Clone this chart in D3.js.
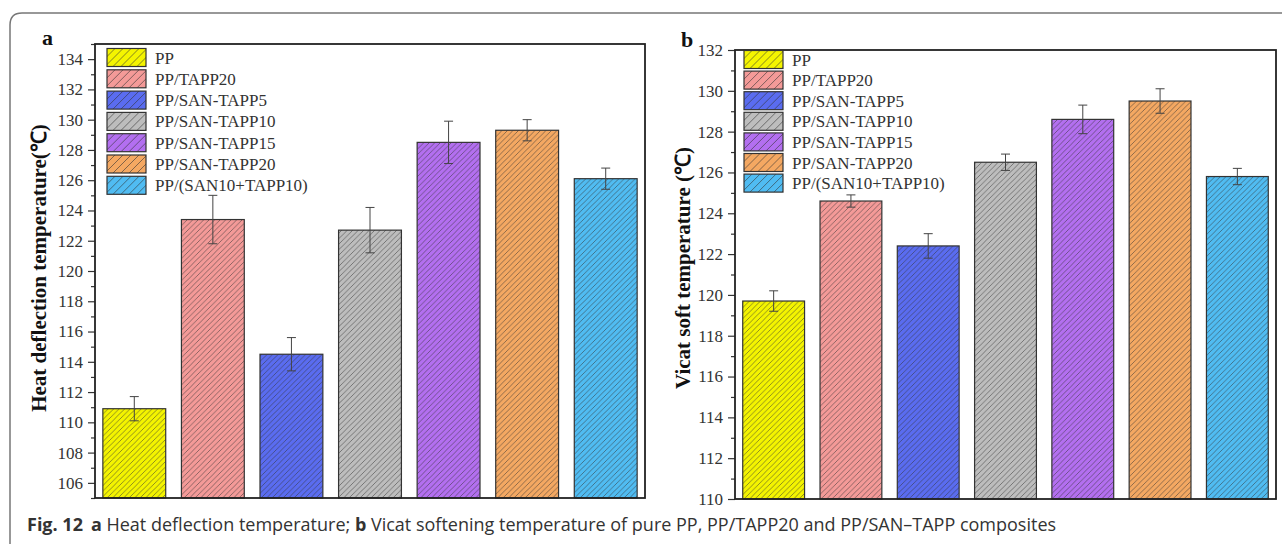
<!DOCTYPE html>
<html>
<head>
<meta charset="utf-8">
<script src="https://cdn.jsdelivr.net/npm/d3@7"></script>
<style>
  body { margin: 0; background: #fff; }
  svg { display: block; }
</style>
</head>
<body>
<div id="vis-container"></div>
<script>
let width = 1282;
let height = 544;

// categories shared by both panels
let samples = ["PP", "PP/TAPP20", "PP/SAN-TAPP5", "PP/SAN-TAPP10", "PP/SAN-TAPP15", "PP/SAN-TAPP20", "PP/(SAN10+TAPP10)"];
let bar_colors = ["#f4f400", "#f49a98", "#5a6cf0", "#bdbdbd", "#b36ff0", "#f4a862", "#50bcf2"];

// panel a: heat deflection temperature
let hdt_values = [110.9, 123.4, 114.5, 122.7, 128.5, 129.3, 126.1];
let hdt_errors = [0.8, 1.6, 1.1, 1.5, 1.4, 0.7, 0.7];
let hdt_ticks = [106, 108, 110, 112, 114, 116, 118, 120, 122, 124, 126, 128, 130, 132, 134];

// panel b: vicat softening temperature
let vst_values = [119.7, 124.6, 122.4, 126.5, 128.6, 129.5, 125.8];
let vst_errors = [0.5, 0.3, 0.6, 0.4, 0.7, 0.6, 0.4];
let vst_ticks = [110, 112, 114, 116, 118, 120, 122, 124, 126, 128, 130, 132];

let svg = d3.select("#vis-container").append("svg")
    .attr("width", width)
    .attr("height", height);

let defs = svg.append("defs");

// hatch patterns: "/" lines over the bar colour
function makePattern(id, color, size, sw) {
  let p = defs.append("pattern")
      .attr("id", id)
      .attr("patternUnits", "userSpaceOnUse")
      .attr("width", size)
      .attr("height", size);
  p.append("rect").attr("width", size).attr("height", size).attr("fill", color);
  p.append("path")
      .attr("d", `M0,${size} L${size},0 M${-size / 2},${size / 2} L${size / 2},${-size / 2} M${size / 2},${size * 1.5} L${size * 1.5},${size / 2}`)
      .attr("stroke", "#333")
      .attr("stroke-opacity", 0.75)
      .attr("stroke-width", sw);
}
bar_colors.forEach(function(c, i) {
  makePattern("hatch" + i, c, 5.5, 0.7);
  makePattern("lhatch" + i, c, 8, 0.8);
});

// outer figure frame
svg.append("path")
    .attr("d", "M10,544 L10,25 Q10,13 22,13 L1282,13")
    .attr("fill", "none")
    .attr("stroke", "#777")
    .attr("stroke-width", 1.5);

function drawPanel(opt) {
  let x = d3.scaleBand()
      .domain(samples)
      .range([opt.left, opt.right])
      .paddingInner(0.2)
      .paddingOuter(0.1);
  let y = d3.scaleLinear()
      .domain(opt.domain)
      .range([opt.bottom, opt.top]);

  let g = svg.append("g");

  // bars
  g.selectAll("rect.bar")
    .data(opt.values)
    .enter().append("rect")
      .attr("class", "bar")
      .attr("x", function(d, i) { return x(samples[i]); })
      .attr("y", function(d) { return y(d); })
      .attr("width", x.bandwidth())
      .attr("height", function(d) { return opt.bottom - y(d); })
      .attr("fill", function(d, i) { return "url(#hatch" + i + ")"; })
      .attr("stroke", "#333")
      .attr("stroke-width", 1.2);

  // error bars
  let eb = g.selectAll("g.err")
    .data(opt.values)
    .enter().append("g")
      .attr("class", "err")
      .attr("stroke", "#444")
      .attr("stroke-width", 1);
  let cx = function(i) { return x(samples[i]) + x.bandwidth() / 2; };
  eb.append("line")
      .attr("x1", function(d, i) { return cx(i); })
      .attr("x2", function(d, i) { return cx(i); })
      .attr("y1", function(d, i) { return y(d + opt.errors[i]); })
      .attr("y2", function(d, i) { return y(d - opt.errors[i]); });
  eb.append("line")
      .attr("x1", function(d, i) { return cx(i) - 4.5; })
      .attr("x2", function(d, i) { return cx(i) + 4.5; })
      .attr("y1", function(d, i) { return y(d + opt.errors[i]); })
      .attr("y2", function(d, i) { return y(d + opt.errors[i]); });
  eb.append("line")
      .attr("x1", function(d, i) { return cx(i) - 4.5; })
      .attr("x2", function(d, i) { return cx(i) + 4.5; })
      .attr("y1", function(d, i) { return y(d - opt.errors[i]); })
      .attr("y2", function(d, i) { return y(d - opt.errors[i]); });

  // y axis with minor ticks
  let minor = [];
  for (let v = opt.domain[0]; v <= opt.domain[1]; v += 1) {
    if (opt.ticks.indexOf(v) < 0) minor.push(v);
  }
  g.append("g")
      .attr("transform", `translate(${opt.left},0)`)
      .call(d3.axisLeft(y).tickValues(minor).tickSize(4).tickFormat(""))
      .call(function(a) { a.select(".domain").remove(); a.selectAll("line").attr("stroke", "#333").attr("stroke-width", 1.2); });
  g.append("g")
      .attr("transform", `translate(${opt.left},0)`)
      .call(d3.axisLeft(y).tickValues(opt.ticks).tickSize(7).tickPadding(5))
      .call(function(a) {
        a.select(".domain").remove();
        a.selectAll("line").attr("stroke", "#333").attr("stroke-width", 1.2);
        a.selectAll("text")
            .attr("fill", "#333")
            .style("font-family", "Liberation Serif")
            .style("font-size", "17px");
      });

  // plot frame
  g.append("rect")
      .attr("x", opt.left)
      .attr("y", opt.top)
      .attr("width", opt.right - opt.left)
      .attr("height", opt.bottom - opt.top)
      .attr("fill", "none")
      .attr("stroke", "#222")
      .attr("stroke-width", 1.8);

  // legend
  let lg = g.selectAll("g.legend")
    .data(samples)
    .enter().append("g")
      .attr("class", "legend")
      .attr("transform", function(d, i) { return `translate(${opt.legX},${opt.legY + i * opt.legStep})`; });
  lg.append("rect")
      .attr("width", 39)
      .attr("height", 18)
      .attr("fill", function(d, i) { return "url(#lhatch" + i + ")"; })
      .attr("stroke", "#333")
      .attr("stroke-width", 1.2);
  lg.append("text")
      .attr("x", 48)
      .attr("y", 15)
      .attr("fill", "#333")
      .style("font-family", "Liberation Serif")
      .style("font-size", "17px")
      .text(function(d) { return d; });

  // axis title
  svg.append("text")
      .attr("transform", `translate(${opt.titleX},${opt.titleY}) rotate(-90)`)
      .attr("text-anchor", "middle")
      .attr("fill", "#111")
      .style("font-family", "Liberation Serif")
      .style("font-weight", "bold")
      .style("font-size", "21px")
      .text(opt.title);

  // panel letter
  svg.append("text")
      .attr("x", opt.letterX)
      .attr("y", opt.letterY)
      .attr("fill", "#111")
      .style("font-family", "Liberation Serif")
      .style("font-weight", "bold")
      .style("font-size", "22px")
      .text(opt.letter);
}

drawPanel({
  values: hdt_values, errors: hdt_errors, ticks: hdt_ticks,
  domain: [105, 135],
  left: 95, right: 645, top: 44, bottom: 498,
  legX: 107, legY: 48.5, legStep: 21.3,
  title: "Heat deflection temperature(℃)", titleX: 46, titleY: 268,
  letter: "a", letterX: 42, letterY: 45
});

drawPanel({
  values: vst_values, errors: vst_errors, ticks: vst_ticks,
  domain: [110, 132],
  left: 735, right: 1276, top: 50, bottom: 499,
  legX: 744, legY: 50.5, legStep: 20.6,
  title: "Vicat soft temperature (℃)", titleX: 690, titleY: 268,
  letter: "b", letterX: 681, letterY: 47
});

// caption
let cap = svg.append("text")
    .attr("x", 27)
    .attr("y", 531)
    .attr("fill", "#333")
    .style("font-family", "Open Sans")
    .style("font-size", "18px");
cap.append("tspan").style("font-weight", "bold").text("Fig. 12");
cap.append("tspan").attr("dx", 8).style("font-weight", "bold").text("a");
cap.append("tspan").text(" Heat deflection temperature; ");
cap.append("tspan").style("font-weight", "bold").text("b");
cap.append("tspan").text(" Vicat softening temperature of pure PP, PP/TAPP20 and PP/SAN–TAPP composites");
</script>
</body>
</html>
